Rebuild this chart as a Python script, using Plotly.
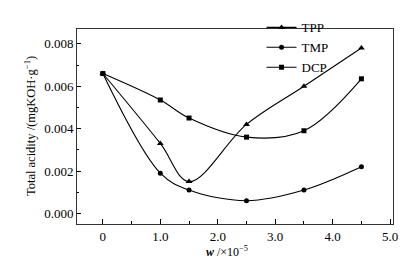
import plotly.graph_objects as go

x_vals = [0, 1.0, 1.5, 2.5, 3.5, 4.5]
tpp = [0.0066, 0.0033, 0.0015, 0.0042, 0.0060, 0.0078]
tmp = [0.0066, 0.0019, 0.0011, 0.0006, 0.0011, 0.0022]
dcp = [0.0066, 0.00535, 0.0045, 0.0036, 0.0039, 0.00635]

x_tickvals = [0, 1, 2, 3, 4, 5]
x_ticktext = ["0", "1.0", "2.0", "3.0", "4.0", "5.0"]
y_tickvals = [0.000, 0.002, 0.004, 0.006, 0.008]
y_ticktext = ["0.000", "0.002", "0.004", "0.006", "0.008"]

font = "Liberation Serif, Times New Roman, serif"

fig = go.Figure()
for name, vals, sym, sz in [("TPP", tpp, "triangle-up", 6), ("TMP", tmp, "circle", 5), ("DCP", dcp, "square", 5)]:
    fig.add_trace(go.Scatter(
        x=x_vals, y=vals, name=name, mode="lines+markers",
        line=dict(color="black", width=1.1, shape="spline", smoothing=1.0),
        marker=dict(symbol=sym, size=sz, color="black"),
    ))

fig.update_layout(
    width=417, height=264,
    margin=dict(l=77, r=24, t=16, b=40),
    paper_bgcolor="white", plot_bgcolor="white",
    font=dict(family=font, size=12, color="black"),
    showlegend=True,
    legend=dict(x=0.584, y=1.085, xanchor="left", yanchor="top",
                bgcolor="rgba(0,0,0,0)", font=dict(size=13, family=font),
                tracegroupgap=0, itemwidth=30),
    xaxis=dict(range=[-0.45, 5.05], tickvals=x_tickvals, ticktext=x_ticktext,
               ticks="inside", ticklen=5, tickcolor="black", automargin=False,
               showline=True, linecolor="#333", mirror=True, showgrid=False, zeroline=False,
               minor=dict(ticks="inside", ticklen=3, dtick=0.5, tickcolor="black", showgrid=False),
               tickfont=dict(size=13)),
    yaxis=dict(range=[-0.0005, 0.0087], tickvals=y_tickvals, ticktext=y_ticktext,
               ticks="inside", ticklen=4, tickcolor="black", automargin=False,
               showline=True, linecolor="#333", mirror=True, showgrid=False, zeroline=False,
               minor=dict(ticks="inside", ticklen=2, dtick=0.001, tickcolor="black", showgrid=False),
               tickfont=dict(size=13)),
    annotations=[
        dict(text="Total acidity /(mgKOH·g<sup>−1</sup>)", xref="paper", yref="paper",
             x=-0.15, y=0.5, xanchor="center", yanchor="middle", textangle=-90,
             showarrow=False, font=dict(size=12.5, family=font)),
        dict(text="<i><b>w</b></i> /×10<sup>−5</sup>", xref="paper", yref="paper",
             x=0.476, y=-0.139, xanchor="center", yanchor="middle",
             showarrow=False, font=dict(size=12, family=font)),
    ],
)

fig.write_html("out.html", config={"displayModeBar": False},
               post_script="document.body.style.margin='0';document.body.style.padding='0';")
